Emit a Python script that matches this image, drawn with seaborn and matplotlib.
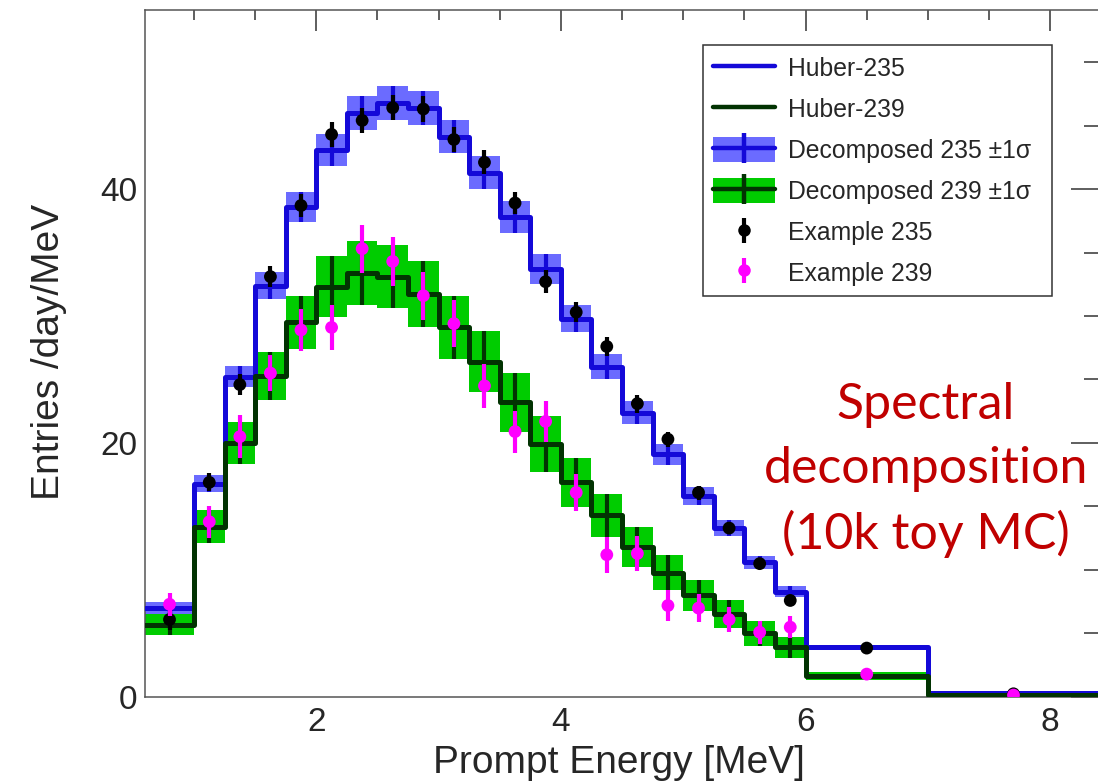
import numpy as np
import pandas as pd
import matplotlib
matplotlib.use("Agg")
import matplotlib.pyplot as plt
import seaborn as sns
from matplotlib.patches import Patch
from matplotlib.lines import Line2D
from matplotlib.legend_handler import HandlerTuple
from matplotlib.ticker import MultipleLocator

# ---------------- data ----------------
bin_edges = [0.6, 1.0, 1.25, 1.5, 1.75, 2.0, 2.25, 2.5, 2.75, 3.0, 3.25, 3.5,
             3.75, 4.0, 4.25, 4.5, 4.75, 5.0, 5.25, 5.5, 5.75, 6.0, 7.0, 8.4]

huber235 = [7.0, 16.8, 25.2, 32.4, 38.6, 43.1, 46.0, 46.8, 46.4, 44.1, 41.3, 37.8,
            33.7, 29.8, 26.0, 22.4, 19.1, 15.8, 13.3, 10.6, 8.3, 3.9, 0.3]
huber239 = [5.7, 13.4, 20.0, 25.3, 29.5, 32.3, 33.4, 33.1, 31.7, 29.1, 26.4, 23.2,
            19.9, 16.9, 14.3, 11.8, 9.8, 8.0, 6.5, 5.0, 3.9, 1.65, 0.15]

decomp235 = [7.0, 16.8, 25.2, 32.4, 38.6, 43.1, 46.0, 46.8, 46.4, 44.1, 41.3, 37.8,
             33.7, 29.8, 26.0, 22.4, 19.1, 15.8, 13.3, 10.6, 8.3, 3.9, 0.3]
decomp235_err = [0.45, 0.65, 0.83, 1.05, 1.2, 1.27, 1.35, 1.34, 1.32, 1.3, 1.3, 1.25,
                 1.2, 1.05, 1.0, 0.9, 0.8, 0.7, 0.6, 0.5, 0.4, 0.2, 0.08]
decomp239 = [5.7, 13.4, 20.0, 25.3, 29.5, 32.3, 33.4, 33.1, 31.7, 29.1, 26.4, 23.2,
             19.9, 16.9, 14.3, 11.8, 9.8, 8.0, 6.5, 5.0, 3.9, 1.65, 0.15]
decomp239_err = [0.85, 1.3, 1.65, 1.9, 2.1, 2.4, 2.5, 2.5, 2.6, 2.5, 2.4, 2.3,
                 2.2, 1.95, 1.7, 1.55, 1.4, 1.25, 1.1, 0.95, 0.83, 0.35, 0.1]

example235 = [6.1, 16.9, 24.6, 33.1, 38.7, 44.3, 45.4, 46.4, 46.3, 43.9, 42.1, 38.9,
              32.7, 30.3, 27.6, 23.1, 20.3, 16.1, 13.3, 10.5, 7.6, 3.85, 0.25]
example235_err = [0.8, 0.7, 0.8, 0.85, 0.9, 1.0, 1.0, 1.0, 1.0, 0.95, 0.95, 0.9,
                  0.9, 0.8, 0.75, 0.7, 0.6, 0.55, 0.5, 0.45, 0.4, 0.2, 0.1]
example239 = [7.3, 13.8, 20.5, 25.5, 28.9, 29.1, 35.3, 34.3, 31.6, 29.4, 24.5, 20.9,
              21.7, 16.1, 11.2, 11.3, 7.2, 7.0, 6.1, 5.1, 5.5, 1.8, 0.15]
example239_err = [0.9, 1.25, 1.7, 1.4, 1.65, 1.8, 1.9, 1.9, 1.9, 1.85, 1.75, 1.65,
                  1.6, 1.45, 1.4, 1.4, 1.2, 1.1, 1.0, 0.9, 0.85, 0.35, 0.1]

legend_labels = ["Huber-235", "Huber-239", "Decomposed 235 \u00b11\u03c3",
                 "Decomposed 239 \u00b11\u03c3", "Example 235", "Example 239"]
x_label = "Prompt Energy [MeV]"
y_label = "Entries /day/MeV"
annotation = "Spectral\ndecomposition\n(10k toy MC)"

# ---------------- style ----------------
sns.set_style("white")
plt.rcParams['font.family'] = ['Liberation Sans', 'DejaVu Sans']

C_BLUE = '#1409d8'
C_BLUE_BAND = '#6b6bff'
C_DKGREEN = '#023302'
C_GREEN_BAND = '#00cc00'
C_MAGENTA = '#ff00ff'
C_RED = '#c00000'

edges = np.array(bin_edges, dtype=float)
centers = 0.5 * (edges[:-1] + edges[1:])
widths = np.diff(edges)

fig = plt.figure(figsize=(10.98, 7.84), dpi=100)
ax = fig.add_axes([0.1321, 0.1110, 0.8689, 0.8763])

# uncertainty bands
d235 = np.array(decomp235); e235 = np.array(decomp235_err)
d239 = np.array(decomp239); e239 = np.array(decomp239_err)
ax.bar(centers, 2 * e235, bottom=d235 - e235, width=widths, color=C_BLUE_BAND,
       linewidth=0, zorder=1, align='center')
ax.bar(centers, 2 * e239, bottom=d239 - e239, width=widths, color=C_GREEN_BAND,
       linewidth=0, zorder=1.1, align='center')

# decomposed central values (vertical bars of the crosses)
ax.errorbar(centers, d235, yerr=e235, fmt='none', ecolor=C_BLUE, elinewidth=3,
            capsize=0, zorder=2)
ax.errorbar(centers, d239, yerr=e239, fmt='none', ecolor=C_DKGREEN, elinewidth=3,
            capsize=0, zorder=2.1)

# Huber step histograms drawn with seaborn
hist_df = pd.DataFrame({"E": centers, "h235": huber235, "h239": huber239})
sns.histplot(data=hist_df, x="E", weights="h235", bins=list(bin_edges),
             element='step', fill=False, color=C_BLUE, linewidth=3.6, ax=ax,
             zorder=3)
sns.histplot(data=hist_df, x="E", weights="h239", bins=list(bin_edges),
             element='step', fill=False, color=C_DKGREEN, linewidth=3.6, ax=ax,
             zorder=3.1)

# example pseudo-data
ax.errorbar(centers, example235, yerr=example235_err, fmt='none', ecolor='black',
            elinewidth=3, capsize=0, zorder=4)
sns.scatterplot(x=centers, y=example235, color='black', s=85, edgecolor='none',
                ax=ax, zorder=4.1, legend=False)
ax.errorbar(centers, example239, yerr=example239_err, fmt='none', ecolor=C_MAGENTA,
            elinewidth=3, capsize=0, zorder=5)
sns.scatterplot(x=centers, y=example239, color=C_MAGENTA, s=85, edgecolor='none',
                ax=ax, zorder=5.1, legend=False)

# axes
ax.set_xlim(0.6, 8.4)
ax.set_ylim(0, 54.1)
ax.xaxis.set_major_locator(MultipleLocator(2))
ax.xaxis.set_minor_locator(MultipleLocator(0.5))
ax.yaxis.set_major_locator(MultipleLocator(20))
ax.yaxis.set_minor_locator(MultipleLocator(5))
ax.tick_params(which='both', direction='in', top=True, right=True,
               color='#333333', width=1.1, labelsize=24)
ax.tick_params(axis='x', which='major', length=15, pad=7)
ax.tick_params(axis='x', which='minor', length=7.5)
ax.tick_params(axis='y', which='major', length=20, pad=5.5)
ax.tick_params(axis='y', which='minor', length=10.8)
for s in ax.spines.values():
    s.set_color('#555555')
    s.set_linewidth(1.1)

ax.set_xlabel(x_label, fontsize=28)
ax.set_ylabel(y_label, fontsize=28)
ax.xaxis.set_label_coords(0.497, -0.070)
ax.yaxis.set_label_coords(-0.082, 0.502)

# legend
handles = [
    Line2D([], [], color=C_BLUE, lw=3.2),
    Line2D([], [], color=C_DKGREEN, lw=3.2),
    (Patch(facecolor=C_BLUE_BAND, edgecolor='none'),
     Line2D([], [], color=C_BLUE, lw=3.2, marker='|', markersize=21, mew=3.2)),
    (Patch(facecolor=C_GREEN_BAND, edgecolor='none'),
     Line2D([], [], color=C_DKGREEN, lw=3.2, marker='|', markersize=21, mew=3.2)),
    (Line2D([], [], color='black', marker='|', markersize=18, mew=3, linestyle='none'),
     Line2D([], [], color='black', marker='o', markersize=9, mew=0, linestyle='none')),
    (Line2D([], [], color=C_MAGENTA, marker='|', markersize=18, mew=3, linestyle='none'),
     Line2D([], [], color=C_MAGENTA, marker='o', markersize=9, mew=0, linestyle='none')),
]
leg = ax.legend(handles, legend_labels, loc='upper left',
                bbox_to_anchor=(0.5849, 0.5, 0.3658, 0.4491), mode='expand',
                borderaxespad=0,
                fontsize=17.8, frameon=True, fancybox=False, framealpha=1,
                edgecolor='#333333', handlelength=2.5, handleheight=1.15,
                handletextpad=0.5, labelspacing=0.62, borderpad=0.42,
                handler_map={tuple: HandlerTuple(ndivide=1, pad=0)})
leg.get_frame().set_linewidth(1.1)

# annotation
fig.text(0.843, 0.400, annotation, color=C_RED, fontsize=36, family='Lato',
         ha='center', va='center', linespacing=1.47)

fig.savefig("out.png", dpi=100)
